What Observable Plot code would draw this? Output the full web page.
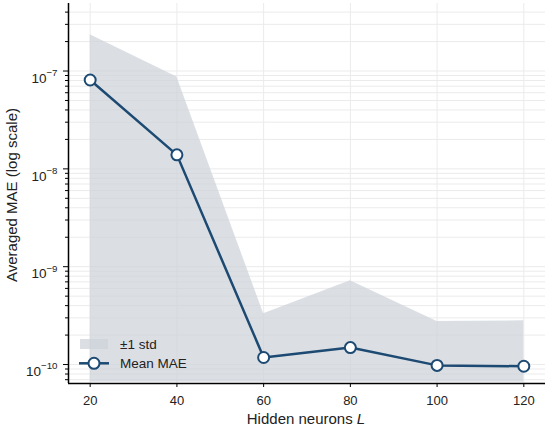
<!DOCTYPE html>
<html><head><meta charset="utf-8">
<script src="https://cdn.jsdelivr.net/npm/d3@7"></script>
<script src="https://cdn.jsdelivr.net/npm/@observablehq/plot@0.6"></script>
<style>body{margin:0;background:#fff} svg{display:block}</style>
</head><body><div id="chart"></div>
<script>
// Data
const neurons  = [20, 40, 60, 80, 100, 120];
const meanMAE  = [8.1e-8, 1.39e-8, 1.18e-10, 1.49e-10, 0.98e-10, 0.96e-10];
const upperStd = [2.35e-7, 8.7e-8, 3.3e-10, 7.2e-10, 2.75e-10, 2.8e-10];
const lowerStd = [6.6e-11, 6.6e-11, 6.6e-11, 6.6e-11, 6.6e-11, 6.6e-11]; // clipped at axis floor
const xTicks = [20, 40, 60, 80, 100, 120];
const yMajor = [1e-10, 1e-9, 1e-8, 1e-7];
const yMajorLabels = ["10^−10", "10^−9", "10^−8", "10^−7"];
const xDomain = [15, 125];
const yDomain = [6.4e-11, 4.9e-7];

const data = neurons.map((n, i) => ({n, mean: meanMAE[i], lo: lowerStd[i], hi: upperStd[i]}));
const allTicks = d3.scaleLog().domain(yDomain).ticks();
const yMinor = allTicks.filter(v => !yMajor.some(m => Math.abs(m - v) / m < 1e-6));

const lineColor = "#1d4a72";
const FONT = "'Liberation Sans', Arial, Helvetica, sans-serif";

const chart = Plot.plot({
  width: 550, height: 428,
  marginLeft: 68, marginRight: 5, marginTop: 3, marginBottom: 45,
  style: {fontFamily: FONT, fontSize: "13px", color: "#222", background: "#fff"},
  x: {domain: xDomain},
  y: {type: "log", domain: yDomain},
  marks: [
    Plot.gridY(allTicks, {stroke: "#ebebeb", strokeOpacity: 1, strokeWidth: 1}),
    Plot.gridX(xTicks, {stroke: "#ebebeb", strokeOpacity: 1, strokeWidth: 1}),
    Plot.areaY(data, {x: "n", y1: "lo", y2: "hi", fill: "#cdd3da", fillOpacity: 0.72}),
    Plot.line(data, {x: "n", y: "mean", stroke: lineColor, strokeWidth: 2.5}),
    Plot.dot(data, {x: "n", y: "mean", r: 5.5, fill: "white", stroke: lineColor, strokeWidth: 2}),
    Plot.axisY(yMajor, {tickSize: 5, tickPadding: 6, tickFormat: d => yMajorLabels[yMajor.indexOf(d)], label: null, stroke: "#000", fontSize: 13.5}),
    Plot.axisY(yMinor, {tickSize: 3, tickFormat: () => "", label: null, stroke: "#000"}),
    Plot.axisX(xTicks, {tickSize: 4, tickPadding: 8, label: null, stroke: "#000", fontSize: 13}),
    Plot.ruleX([xDomain[0]], {stroke: "#000", strokeWidth: 1.5}),
    Plot.ruleY([yDomain[0]], {stroke: "#000", strokeWidth: 1.5})
  ]
});

const svg = d3.select(chart);
// superscript tick labels
svg.selectAll("text").each(function() {
  const t = this.textContent;
  if (t.includes("^")) {
    const [b, e] = t.split("^");
    const sel = d3.select(this);
    sel.text("").attr("dy", "0.55em");
    sel.append("tspan").text(b);
    sel.append("tspan").attr("dy", "-0.7em").attr("font-size", "0.72em").text(e);
  }
});

// axis titles
svg.append("text")
  .attr("transform", "translate(17,195) rotate(-90)")
  .attr("text-anchor", "middle")
  .attr("font-family", FONT).attr("font-size", 15).attr("fill", "#222")
  .text("Averaged MAE (log scale)");
const xl = svg.append("text")
  .attr("x", 306).attr("y", 424)
  .attr("text-anchor", "middle")
  .attr("font-family", FONT).attr("font-size", 15).attr("fill", "#222");
xl.append("tspan").text("Hidden neurons ");
xl.append("tspan").attr("font-style", "italic").text("L");

// legend
const lg = svg.append("g").attr("font-family", FONT).attr("font-size", 13.5).attr("fill", "#222").attr("text-anchor", "start");
lg.append("rect").attr("x", 80).attr("y", 339).attr("width", 28).attr("height", 10)
  .attr("fill", "#cdd3da").attr("fill-opacity", 0.72);
lg.append("text").attr("x", 120).attr("y", 348.5).attr("text-anchor", "start").text("±1 std");
lg.append("line").attr("x1", 79).attr("x2", 109).attr("y1", 363.3).attr("y2", 363.3)
  .attr("stroke", lineColor).attr("stroke-width", 2.5);
lg.append("circle").attr("cx", 94).attr("cy", 363.3).attr("r", 5.5)
  .attr("fill", "white").attr("stroke", lineColor).attr("stroke-width", 2);
lg.append("text").attr("x", 120).attr("y", 368).attr("text-anchor", "start").text("Mean MAE");

document.getElementById("chart").appendChild(chart);
</script>
</body></html>
